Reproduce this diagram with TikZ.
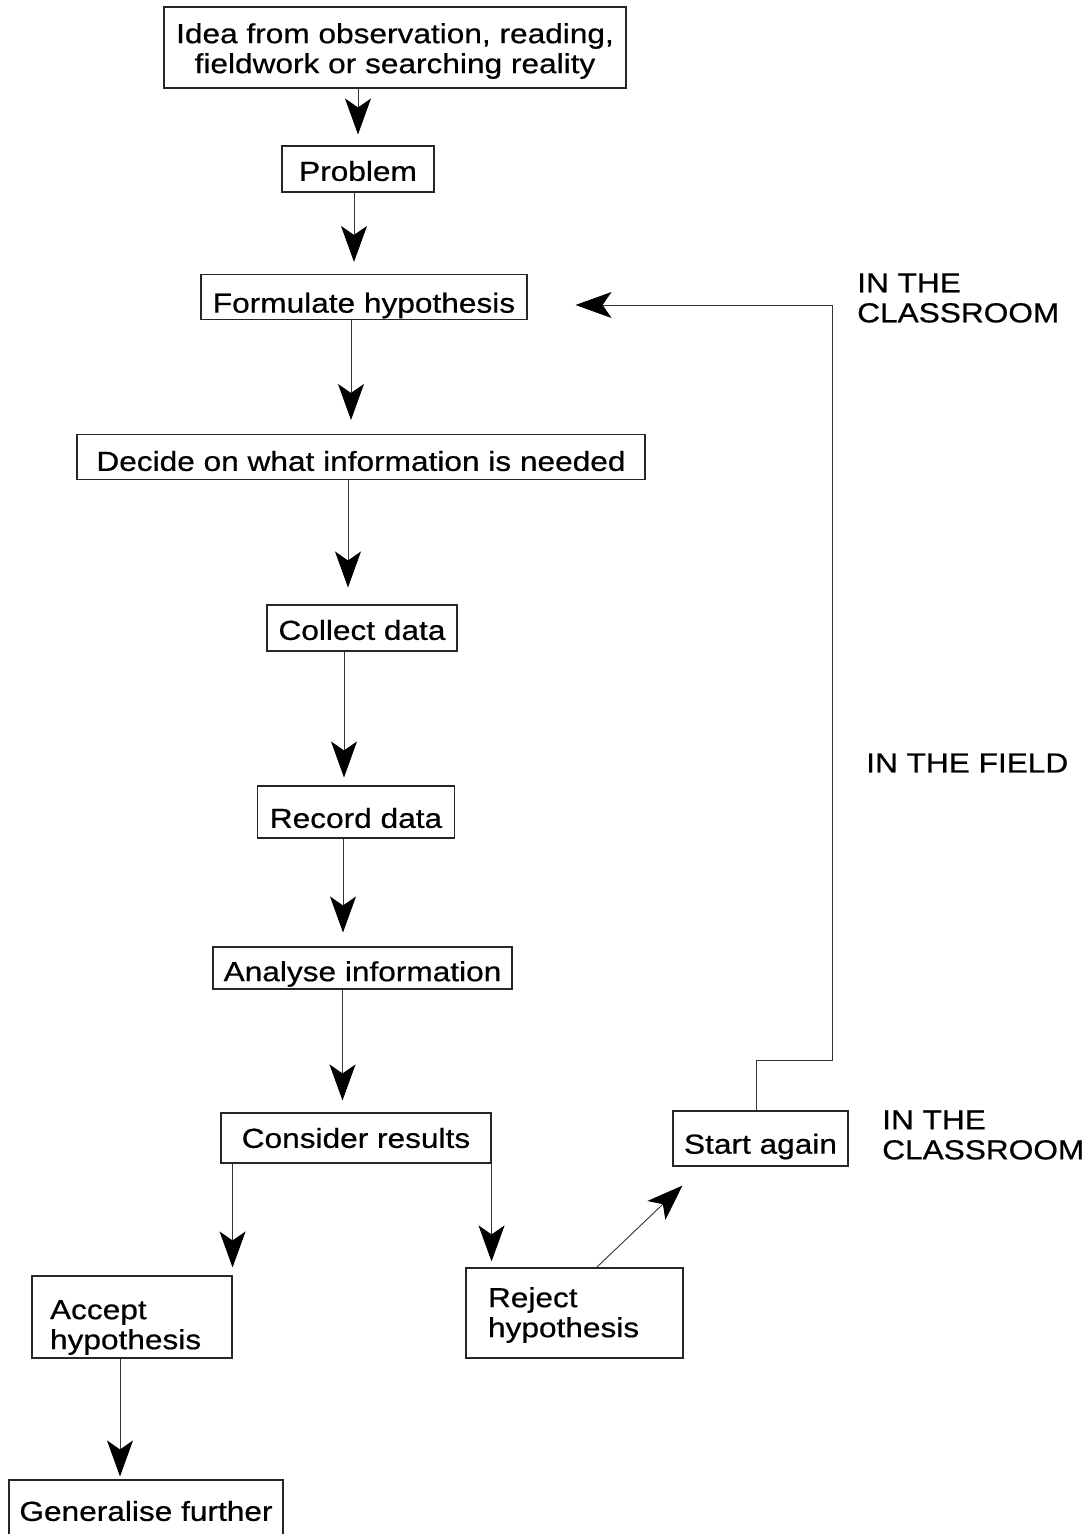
\documentclass[tikz,border=0pt]{standalone}
\usepackage{fontspec}
\setmainfont{Liberation Sans}[FakeStretch=1.15, FakeBold=0.6]
\usetikzlibrary{arrows.meta}

\begin{document}
\begin{tikzpicture}[
  x=1pt, y=-1pt,
  box/.style={rectangle, draw=black!85, line width=1.1pt, inner sep=0pt, align=center},
  leftbox/.style={box, align=left, inner ysep=0pt},
  note/.style={align=left, inner sep=0pt, anchor=west},
  arr/.style={-{Stealth[length=36pt, width=26pt, inset=9pt, color=black]}, line width=0.9pt, draw=black!80},
  font=\fontsize{27.5pt}{30pt}\selectfont
]
\clip (0,0) rectangle (1086,1534);
\node[box, minimum width=462pt, minimum height=81pt] (idea) at (395,47.5) {\rule{0pt}{27pt}Idea from observation, reading,\\fieldwork or searching reality};
\node[box, minimum width=152pt, minimum height=46pt, text height=24pt] (problem) at (358,169) {Problem};
\node[box, minimum width=326pt, minimum height=45pt, text height=37pt] (formulate) at (364,297) {Formulate hypothesis};
\node[box, minimum width=568pt, minimum height=45pt, text height=28pt] (decide) at (361,457) {Decide on what information is needed};
\node[box, minimum width=190pt, minimum height=46pt, text height=24pt] (collect) at (362,628) {Collect data};
\node[box, minimum width=197pt, minimum height=52pt, text height=32pt] (record) at (356,812) {Record data};
\node[box, minimum width=299pt, minimum height=42pt, text height=32pt] (analyse) at (362.5,968) {Analyse information};
\node[box, minimum width=270pt, minimum height=50pt] (consider) at (356,1138) {Consider results};
\node[leftbox, text width=164pt, inner xsep=18pt, minimum height=82pt] (accept) at (132,1317) {\rule{0pt}{40pt}Accept\\hypothesis};
\node[leftbox, text width=173pt, inner xsep=22pt, minimum height=90pt] (reject) at (574.5,1313) {\rule{0pt}{24pt}Reject\\hypothesis};
\node[box, minimum width=175pt, minimum height=55pt, text height=36pt] (startagain) at (760.5,1138.5) {Start again};
\node[box, minimum width=274pt, minimum height=62pt] (generalise) at (146,1511) {Generalise further};
\node[note] (classtop) at (857,298) {IN THE\\CLASSROOM};
\node[note] (field) at (866,763) {IN THE FIELD};
\node[note] (classbot) at (882,1135) {IN THE\\CLASSROOM};
\coordinate (turn) at (832,1060);
\draw[arr, shorten >=11pt] (problem.north |- idea.south) -- (problem.north);
\draw[arr, shorten >=12pt] ([xshift=-4pt]problem.south) -- ([xshift=-4pt]problem.south |- formulate.north);
\draw[arr, shorten >=14pt] ([xshift=-13pt]formulate.south) -- ([xshift=-13pt]formulate.south |- decide.north);
\draw[arr, shorten >=17pt] ([xshift=-13pt]decide.south) -- ([xshift=-13pt]decide.south |- collect.north);
\draw[arr, shorten >=8pt] ([xshift=-18pt]collect.south) -- ([xshift=-18pt]collect.south |- record.north);
\draw[arr, shorten >=14pt] ([xshift=-13pt]record.south) -- ([xshift=-13pt]record.south |- analyse.north);
\draw[arr, shorten >=12pt] ([xshift=-20pt]analyse.south) -- ([xshift=-20pt]analyse.south |- consider.north);
\draw[arr, shorten >=8pt] (accept.north east |- consider.south) -- (accept.north east);
\draw[arr, shorten >=6pt] (consider.south east) -- (consider.south east |- reject.north);
\draw[arr, shorten >=3pt] ([xshift=-12pt]accept.south) -- ([xshift=-12pt]accept.south |- generalise.north);
\draw[arr] ([xshift=22pt]reject.north) -- ([xshift=10pt, yshift=-19pt]startagain.south west);
\draw[arr, shorten >=48pt] ([xshift=-4pt]startagain.north) |- (turn) |- ([yshift=-8pt]formulate.east);
\end{tikzpicture}
\end{document}
